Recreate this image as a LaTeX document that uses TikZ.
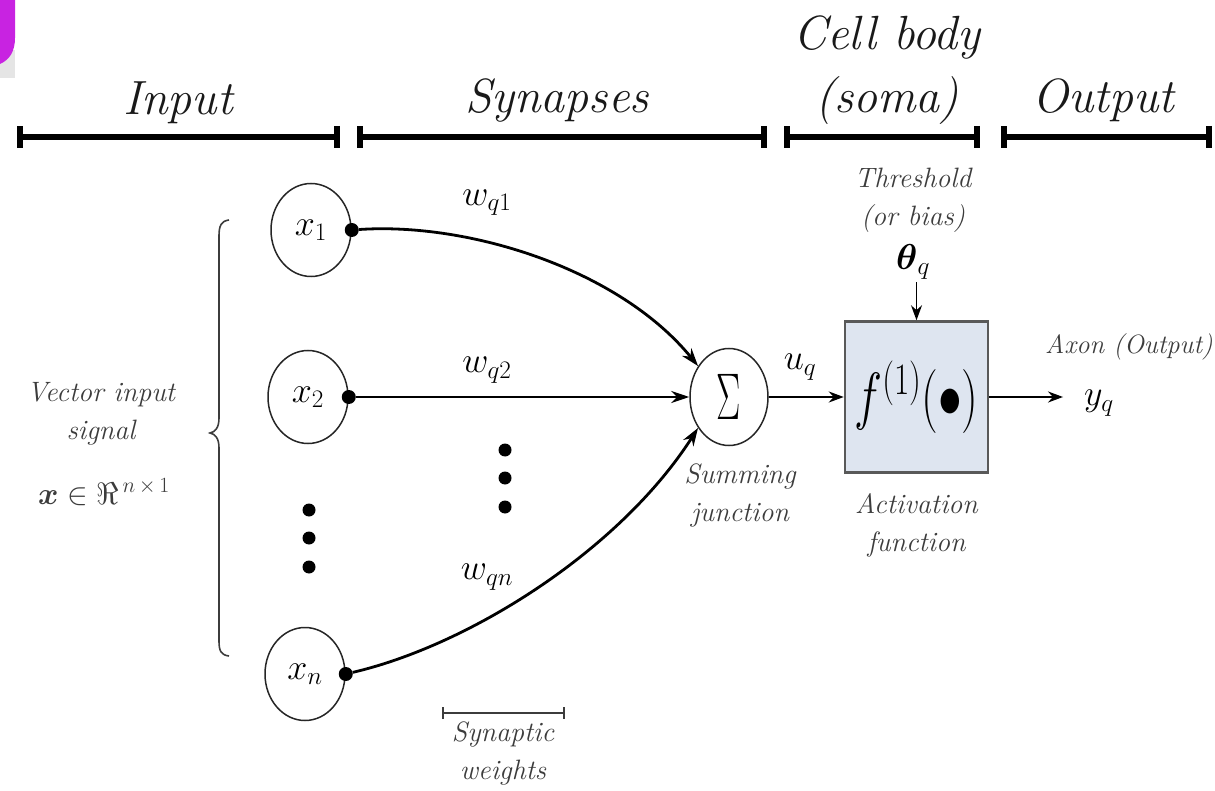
\RequirePackage{fix-cm}
\documentclass[tikz,border=0pt]{standalone}
\usepackage{amsmath,amssymb}
\usetikzlibrary{arrows.meta,positioning,shapes.geometric}
\definecolor{ink}{RGB}{25,25,25}
\definecolor{soft}{RGB}{60,60,60}
\definecolor{cellfill}{RGB}{222,229,240}
\definecolor{slide}{RGB}{200,35,225}
\tikzset{
  head/.style  = {font=\fontsize{48}{52}\selectfont\itshape, text=ink, inner sep=0pt, anchor=base},
  span/.style  = {draw=black, line width=6pt, {Bar[width=22pt]}-{Bar[width=22pt]}},
  inp/.style   = {ellipse, draw=black!85, line width=1.5pt, minimum width=80pt,
                  minimum height=93pt, inner sep=0pt, font=\fontsize{36}{36}\selectfont},
  sumj/.style  = {ellipse, draw=black!85, line width=1.5pt, minimum width=78pt,
                  minimum height=97pt, inner sep=0pt},
  act/.style   = {rectangle, draw=black!65, line width=2.5pt, fill=cellfill,
                  minimum width=143pt, minimum height=151pt, inner sep=0pt},
  note/.style  = {font=\fontsize{28}{38}\selectfont\itshape, text=soft, align=center, inner sep=0pt},
  wlab/.style  = {font=\fontsize{36}{36}\selectfont, inner sep=0pt},
  knob/.style  = {circle, fill=black, inner sep=0pt, minimum size=14pt},
  pip/.style   = {circle, fill=black, inner sep=0pt, minimum size=13pt},
  syn/.style   = {line width=2.8pt, -{Stealth[length=18pt, width=12pt]}},
  fl/.style    = {line width=2pt, -{Stealth[length=15pt, width=11pt]}},
}

\begin{document}
\begin{tikzpicture}[x=1pt, y=-1pt]
    \useasboundingbox (0,0) rectangle (1215,791);
    % slide corner
    \fill[black!10] (0,50) rectangle (15,78);
    \fill[slide] (0,0) -- (15,0) -- (15,38) .. controls (15,52) and (9,60) .. (0,64) -- cycle;

    % stage spans
    \coordinate (in-l) at (17,137);   \coordinate (in-r) at (340,137);
    \coordinate (syn-l) at (357,137); \coordinate (syn-r) at (767,137);
    \coordinate (cb-l) at (784,137);  \coordinate (cb-r) at (980,137);
    \coordinate (out-l) at (1001,137);\coordinate (out-r) at (1212,137);
    \draw[span] (in-l) -- (in-r);
    \draw[span] (syn-l) -- (syn-r);
    \draw[span] (cb-l) -- (cb-r);
    \draw[span] (out-l) -- (out-r);
    \node[head] (h-in)   at (178,115) {Input};
    \node[head] (h-syn)  at (557,113) {Synapses};
    \node[head] (h-cell) at (887,50)  {Cell body};
    \node[head] (h-soma) at (887,113) {(soma)};
    \node[head] (h-out)  at (1103,113) {Output};

    % inputs
    \node[inp] (x1) at (311,230) {$x_1$};
    \node[inp] (x2) at (308,397) {$x_2$};
    \node[inp] (xn) at (305,674) {$x_n$};
    \foreach \i in {1,2,n}
      \node[knob] (k\i) at (x\i.east) {};
    \foreach \y [count=\j] in {510,538,567}
      \node[pip] (vd\j) at (309,\y) {};
    \foreach \y [count=\j] in {450,478,507}
      \node[pip] (hd\j) at (505,\y) {};

    % brace
    \draw[soft, line width=1.6pt] (229,220) .. controls (221,221) and (219,226) .. (219,236)
      -- (219,418) .. controls (219,428) and (215,432) .. (210,433)
      .. controls (215,434) and (219,438) .. (219,448)
      -- (219,641) .. controls (219,651) and (221,655) .. (229,656);
    \node[note] (vec)  at (101,414) {Vector input\\signal};
    \node[note, font=\fontsize{31}{31}\selectfont] (vecm) at (104,492) {$\boldsymbol{x}\in\Re^{\,n\,\times\,1}$};

    % soma
    \node[sumj] (sum) at (729,397) {\scalebox{0.55}[1]{\fontsize{66}{66}\selectfont$\Sigma$}};
    \node[act] (cell) at (916.5,397) {\scalebox{0.74}[1]{\fontsize{64}{64}\selectfont$f^{(1)}(\bullet)$}};
    \coordinate[above=38pt of cell.north] (bias);

    % labels
    \node[wlab] (w1)    at (487,203) {$w_{q1}$};
    \node[wlab] (w2)    at (487,370) {$w_{q2}$};
    \node[wlab] (wn)    at (487,577) {$w_{qn}$};
    \node[wlab] (u)     at (800,367) {$u_q$};
    \node[wlab] (theta) at (913,262) {$\boldsymbol{\theta}_q$};
    \node[wlab] (yq)    at (1099,403) {$y_q$};
    \node[note] (thr)    at (913,200) {Threshold\\(or bias)};
    \node[note] (sumlab) at (740,495) {Summing\\junction};
    \node[note, below=20pt of cell] (actlab) {Activation\\function};
    \node[note, font=\fontsize{26.5}{30}\selectfont\itshape, anchor=base east] (axon) at (1213,353) {Axon (Output)};

    % connectors
    \draw[syn] (k1) .. controls (470,222) and (620,270) .. (sum.135);
    \draw[syn] (k2) -- (sum.west);
    \draw[syn] (kn) .. controls (470,645) and (620,550) .. (sum.225);
    \draw[fl] (sum.east) -- (cell.west);
    \draw[fl, line width=1.5pt] (bias) -- (cell.north);
    \draw[fl, shorten >=21pt] (cell.east) -- (cell.east -| yq.west);

    % synaptic weights bar
    \coordinate (sw-l) at (442,713);
    \coordinate (sw-r) at (565,713);
    \draw[soft, line width=2pt, {Bar[width=12pt]}-{Bar[width=12pt]}] (sw-l) -- (sw-r);
    \node[note] (swlab) at (503,753) {Synaptic\\weights};
\end{tikzpicture}
\end{document}
